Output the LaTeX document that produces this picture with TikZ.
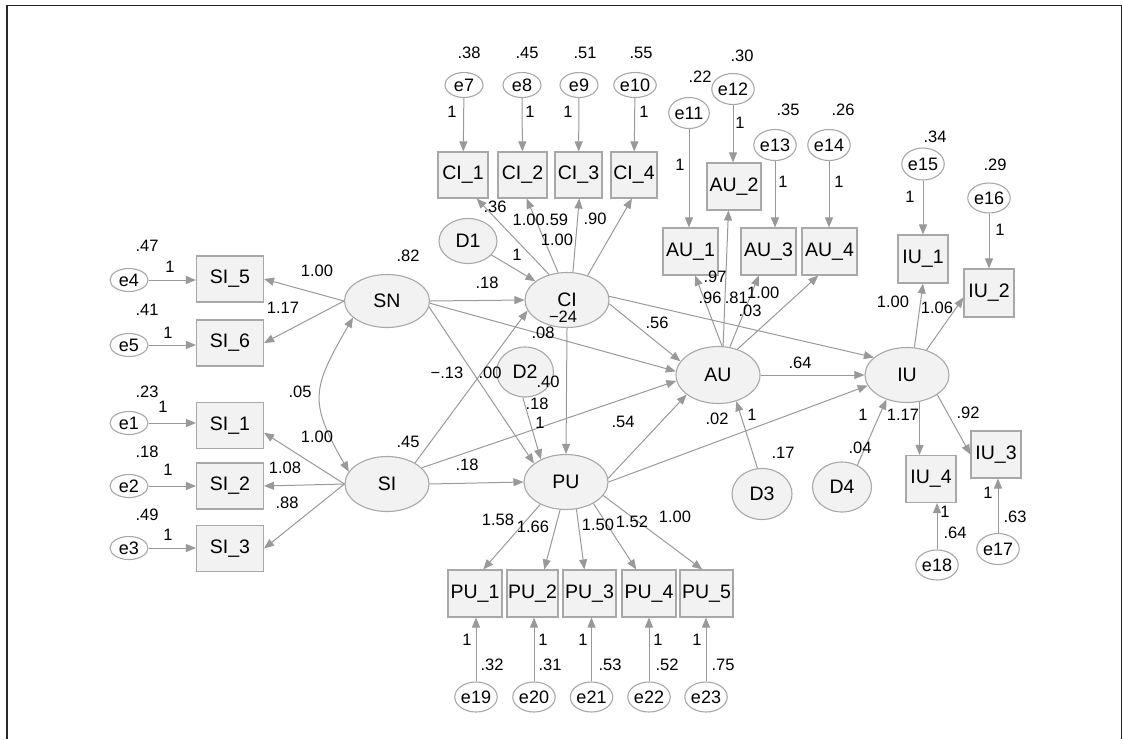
\documentclass[tikz,border=0pt]{standalone}
\usepackage{fontspec}
\setmainfont{Liberation Sans}
\usetikzlibrary{arrows.meta,shapes.geometric,calc}
\definecolor{lc}{HTML}{999999}
\definecolor{bc}{HTML}{A8A8A8}
\definecolor{fc}{HTML}{F2F2F2}
\newcommand\lbl[3]{\node[lab] (#1) at (#2) {#3};}
\begin{document}
\begin{tikzpicture}[x=1pt,y=1pt,
  obs/.style={rectangle,draw=bc,fill=fc,line width=1.1pt,inner sep=0pt,minimum height=47pt,font=\fontsize{19.5}{19.5}\selectfont},
  lat/.style={ellipse,draw=bc,fill=fc,line width=1.1pt,inner sep=0pt,minimum width=84pt,minimum height=55pt,font=\fontsize{19.5}{19.5}\selectfont},
  err/.style={ellipse,draw=bc,fill=white,line width=1.1pt,inner sep=0pt,minimum width=37pt,minimum height=31pt,font=\fontsize{18}{18}\selectfont},
  errl/.style={err,minimum width=38pt,minimum height=23pt},
  errt/.style={err,minimum width=38pt,minimum height=25pt},
  lab/.style={inner sep=0pt,font=\fontsize{16.5}{16.5}\selectfont},
  arr/.style={draw=lc,line width=1pt,-{Triangle[length=10pt,width=8pt]}},
  biarr/.style={draw=lc,line width=1pt,{Triangle[length=10pt,width=8pt]}-{Triangle[length=10pt,width=8pt]}},
]
\useasboundingbox (0,0) rectangle (1123,-739);
\draw[line width=1.3pt,black!85] (7,-739) -- (7,-5.5) -- (1121.5,-5.5) -- (1121.5,-739);

% ---- left block
\node[obs,minimum width=67pt,minimum height=46pt] (SI5) at (230,-279) {SI\_5};
\node[obs,minimum width=67pt,minimum height=46pt] (SI6) at (230,-343) {SI\_6};
\node[obs,minimum width=67pt,minimum height=46pt] (SI1) at (230,-425.5) {SI\_1};
\node[obs,minimum width=67pt,minimum height=46pt] (SI2) at (230,-486) {SI\_2};
\node[obs,minimum width=67pt,minimum height=46pt] (SI3) at (230,-548.5) {SI\_3};
\node[errl] (e4) at (129,-280) {e4};
\node[errl] (e5) at (129,-345) {e5};
\node[errl] (e1) at (129,-423) {e1};
\node[errl] (e2) at (129,-486) {e2};
\node[errl] (e3) at (129,-548) {e3};

% ---- latent
\node[lat,minimum width=85pt,minimum height=53pt] (SN) at (387,-301) {SN};
\node[lat] (SI) at (387,-484) {SI};
\node[lat] (CI) at (567,-300) {CI};
\node[lat] (PU) at (566,-482) {PU};
\node[lat,minimum height=57pt] (AU) at (718,-375) {AU};
\node[lat] (IU) at (907,-375) {IU};
\node[lat,minimum width=58pt,minimum height=45pt] (D1) at (468,-241) {D1};
\node[lat,minimum width=57pt,minimum height=50pt] (D2) at (525,-372) {D2};
\node[lat,minimum width=60pt,minimum height=51pt] (D3) at (762,-494) {D3};
\node[lat,minimum width=59pt,minimum height=50pt] (D4) at (842,-487) {D4};

% ---- CI indicators
\node[obs,minimum width=50pt,minimum height=46pt] (CI1) at (463,-175) {CI\_1};
\node[obs,minimum width=49pt,minimum height=46pt] (CI2) at (522.5,-175) {CI\_2};
\node[obs,minimum width=47pt,minimum height=46pt] (CI3) at (578.5,-175) {CI\_3};
\node[obs,minimum width=46pt,minimum height=46pt] (CI4) at (634,-175) {CI\_4};
\node[errt] (e7) at (464,-85) {e7};
\node[errt] (e8) at (522,-85) {e8};
\node[errt] (e9) at (579,-85) {e9};
\node[errt] (e10) at (635,-85) {e10};

% ---- AU indicators
\node[obs,minimum width=55pt] (AU1) at (690.5,-251.5) {AU\_1};
\node[obs,minimum width=54pt] (AU2) at (734,-186.5) {AU\_2};
\node[obs,minimum width=55pt] (AU3) at (768.5,-251.5) {AU\_3};
\node[obs,minimum width=55pt] (AU4) at (829.5,-251.5) {AU\_4};
\node[err] (e11) at (689,-113) {e11};
\node[err] (e12) at (733,-89) {e12};
\node[err] (e13) at (775,-145) {e13};
\node[err] (e14) at (829,-145) {e14};

% ---- IU indicators
\node[obs,minimum width=50pt,minimum height=48pt] (IU1) at (923,-259) {IU\_1};
\node[obs,minimum width=50pt,minimum height=48pt] (IU2) at (989,-293) {IU\_2};
\node[obs,minimum width=50pt] (IU3) at (996,-454.5) {IU\_3};
\node[obs,minimum width=50pt] (IU4) at (931,-479) {IU\_4};
\node[err,minimum width=38pt,minimum height=32pt] (e15) at (923,-164) {e15};
\node[err,minimum width=39pt,minimum height=30pt] (e16) at (989,-198) {e16};
\node[err] (e17) at (998,-549) {e17};
\node[err,minimum width=37pt,minimum height=30pt] (e18) at (937,-565) {e18};

% ---- PU indicators
\node[obs,minimum width=54pt] (PU1) at (475,-593.5) {PU\_1};
\node[obs,minimum width=51pt] (PU2) at (532.5,-593.5) {PU\_2};
\node[obs,minimum width=53pt] (PU3) at (589.5,-593.5) {PU\_3};
\node[obs,minimum width=54pt] (PU4) at (649,-593.5) {PU\_4};
\node[obs,minimum width=53pt] (PU5) at (706.5,-593.5) {PU\_5};
\node[err,minimum height=30pt] (e19) at (476,-697) {e19};
\node[err,minimum height=30pt] (e20) at (534,-697) {e20};
\node[err,minimum height=30pt] (e21) at (591.5,-697) {e21};
\node[err,minimum height=30pt] (e22) at (649,-697) {e22};
\node[err,minimum height=30pt] (e23) at (706,-697) {e23};

% ---- connectors: left
\draw[arr] (e4) -- (e4 -| SI5.west);
\draw[arr] (e5) -- (e5 -| SI6.west);
\draw[arr] (e1) -- (e1 -| SI1.west);
\draw[arr] (e2) -- (e2 -| SI2.west);
\draw[arr] (e3) -- (e3 -| SI3.west);
\draw[arr] (SN.west) -- (SI5.east);
\draw[arr] (SN.west) -- (SI6.east);
\draw[arr] (SI.west) -- (SI1.-12);
\draw[arr] (SI.west) -- (SI2.east);
\draw[arr] (SI.west) -- (SI3.east);
\draw[biarr] (SN.206) to[out=240,in=120,looseness=1.35] (SI.162);

% ---- structural
\draw[arr] (D1) -- (CI);
\draw[arr] (SN.east) -- (CI.west);
\draw[arr] (SN.-3) -- (AU.175);
\draw[arr] (SN.-8) -- (PU.150);
\draw[arr] (SI.37) -- (CI.195);
\draw[arr] (SI.25) -- (AU.188);
\draw[arr] (SI.east) -- (PU.west);
\draw[arr] (CI.south) -- (PU.north);
\draw[arr] (D2.-95) -- (PU.138);
\draw[arr] (CI.-5) -- (AU.160);
\draw[arr] (CI.5) -- (IU.152);
\draw[arr] (PU.5) -- (AU.212);
\draw[arr] (PU.0) -- (IU.195);
\draw[arr] (AU.east) -- (IU.west);
\draw[arr] (D3.100) -- (AU.-55);
\draw[arr] (D4.55) -- (IU.-130);

% ---- CI measurement
\draw[arr] (e7) -- (CI1);
\draw[arr] (e8) -- (CI2);
\draw[arr] (e9) -- (CI3);
\draw[arr] (e10) -- (CI4);
\draw[arr] (CI.125) -- (CI1.-60);
\draw[arr] (CI.108) -- (CI2.-80);
\draw[arr] (CI.78) -- (CI3.-88);
\draw[arr] (CI.50) -- (CI4.-95);

% ---- AU measurement
\draw[arr] (e11) -- (e11 |- AU1.north);
\draw[arr] (e12) -- (e12 |- AU2.north);
\draw[arr] (e13) -- (e13 |- AU3.north);
\draw[arr] (e14) -- (e14 |- AU4.north);
\draw[arr] (AU.82) -- (AU1.-79);
\draw[arr] (AU.80) -- (AU2.-103);
\draw[arr] (AU.67) -- (AU3.-112);
\draw[arr] (AU.53) -- (AU4.-115);

% ---- IU measurement
\draw[arr] (e15) -- (e15 |- IU1.north);
\draw[arr] (e16) -- (e16 |- IU2.north);
\draw[arr] (IU.75) -- (IU1.south);
\draw[arr] (IU.52) -- (IU2.-170);
\draw[arr] (IU.-33) -- (IU3.west);
\draw[arr] (IU.295) -- (IU.295 |- IU4.north);
\draw[arr] (e17) -- (e17 |- IU3.south);
\draw[arr] (e18) -- (e18 |- IU4.south);

% ---- PU measurement
\draw[arr] (PU.221) -- (PU1.71);
\draw[arr] (PU.258) -- (PU2.64);
\draw[arr] (PU.-69) -- (PU3.102);
\draw[arr] (PU.-38) -- (PU4.118);
\draw[arr] (PU.-20) -- (PU5.100);
\draw[arr] (e19) -- (e19 |- PU1.south);
\draw[arr] (e20) -- (e20 |- PU2.south);
\draw[arr] (e21) -- (e21 |- PU3.south);
\draw[arr] (e22) -- (e22 |- PU4.south);
\draw[arr] (e23) -- (e23 |- PU5.south);

% ---- labels: left
\lbl{la1}{147,-246}{.47}
\lbl{la2}{170,-267}{1}
\lbl{la3}{147,-310}{.41}
\lbl{la4}{168,-333}{1}
\lbl{la5}{147,-392}{.23}
\lbl{la6}{163,-407}{1}
\lbl{la7}{147,-452}{.18}
\lbl{la8}{168,-470}{1}
\lbl{la9}{147,-515}{.49}
\lbl{la10}{168,-535}{1}
\lbl{la11}{317,-271}{1.00}
\lbl{la12}{283,-308}{1.17}
\lbl{la13}{408,-256}{.82}
\lbl{la14}{300,-392}{.05}
\lbl{la15}{317,-437}{1.00}
\lbl{la16}{285,-468}{1.08}
\lbl{la17}{287,-503}{.88}
\lbl{la18}{408,-442}{.45}
% ---- labels: CI
\lbl{lb1}{469,-53}{.38}
\lbl{lb2}{527,-53}{.45}
\lbl{lb3}{585,-53}{.51}
\lbl{lb4}{641,-53}{.55}
\lbl{lb5}{452,-112}{1}
\lbl{lb6}{530,-112}{1}
\lbl{lb7}{568,-112}{1}
\lbl{lb8}{644,-112}{1}
\lbl{lb9}{495,-207}{.36}
\node[lab,anchor=east] (lb10) at (545,-220) {1.00};
\node[lab,anchor=west] (lb11) at (545,-220) {.59};
\lbl{lb12}{595,-219}{.90}
\lbl{lb13}{557,-240}{1.00}
\lbl{lb14}{517,-255}{1}
\lbl{lb15}{487,-283}{.18}
\lbl{lb16}{563,-317}{−24}
% ---- labels: middle
\lbl{lc1}{543,-333}{.08}
\lbl{lc2}{447,-373}{−.13}
\lbl{lc3}{490,-373}{.00}
\lbl{lc4}{548,-382}{.40}
\lbl{lc5}{537,-404}{.18}
\lbl{lc6}{540,-423}{1}
\lbl{lc7}{467,-465}{.18}
\lbl{lc8}{623,-422}{.54}
\lbl{lc9}{657,-323}{.56}
\lbl{lc10}{717,-419}{.02}
\lbl{lc11}{752,-415}{1}
\lbl{lc12}{783,-453}{.17}
\lbl{lc13}{800,-363}{.64}
\lbl{lc14}{863,-415}{1}
\lbl{lc15}{860,-448}{.04}
% ---- labels: AU
\lbl{ld1}{700,-77}{.22}
\lbl{ld2}{742,-56}{.30}
\lbl{ld3}{788,-110}{.35}
\lbl{ld4}{843,-110}{.26}
\lbl{ld5}{680,-165}{1}
\lbl{ld6}{740,-123}{1}
\lbl{ld7}{783,-182}{1}
\lbl{ld8}{839,-182}{1}
\lbl{ld9}{715,-277}{.97}
\lbl{ld10}{710,-298}{.96}
\node[lab,anchor=east] (ld11) at (748,-298) {.81};
\node[lab,anchor=west] (ld12) at (747,-293) {1.00};
\lbl{ld13}{750,-311}{.03}
% ---- labels: IU
\lbl{le1}{935,-137}{.34}
\lbl{le2}{995,-165}{.29}
\lbl{le3}{910,-197}{1}
\lbl{le4}{1000,-230}{1}
\lbl{le5}{893,-302}{1.00}
\lbl{le6}{937,-308}{1.06}
\lbl{le7}{903,-415}{1.17}
\lbl{le8}{968,-413}{.92}
\lbl{le9}{1015,-517}{.63}
\lbl{le10}{988,-493}{1}
\lbl{le11}{955,-533}{.64}
\lbl{le12}{945,-512}{1}
% ---- labels: PU
\lbl{lf1}{498,-520}{1.58}
\lbl{lf2}{533,-527}{1.66}
\lbl{lf3}{598,-525}{1.50}
\lbl{lf4}{632,-522}{1.52}
\lbl{lf5}{675,-517}{1.00}
\lbl{lf6}{467,-640}{1}
\lbl{lf7}{492,-665}{.32}
\lbl{lf8}{543,-640}{1}
\lbl{lf9}{550,-665}{.31}
\lbl{lf10}{583,-640}{1}
\lbl{lf11}{610,-665}{.53}
\lbl{lf12}{658,-640}{1}
\lbl{lf13}{667,-665}{.52}
\lbl{lf14}{697,-640}{1}
\lbl{lf15}{723,-665}{.75}
\end{tikzpicture}
\end{document}
